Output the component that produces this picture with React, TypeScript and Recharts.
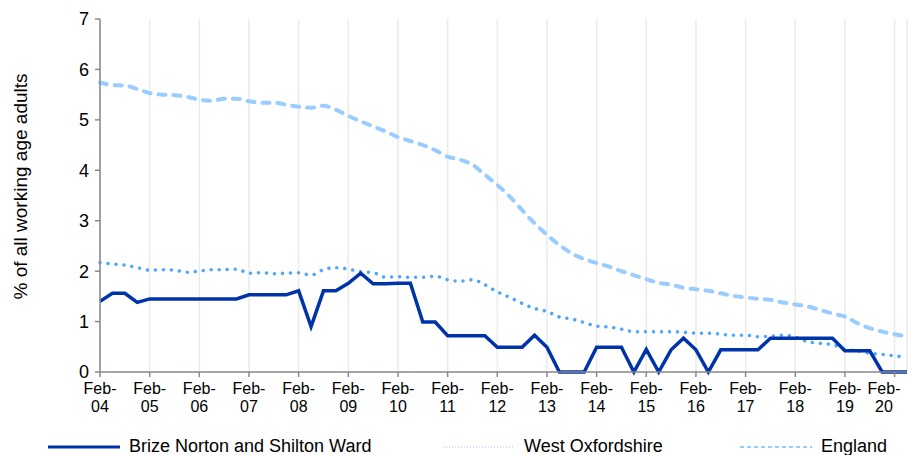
import { LineChart, Line, XAxis, YAxis, CartesianGrid, Legend } from 'recharts'

const years = ['04', '05', '06', '07', '08', '09', '10', '11', '12', '13', '14', '15', '16', '17', '18', '19', '20']
const months = ['Feb', 'May', 'Aug', 'Nov']
const quarters = years.flatMap((y) => months.map((m) => `${m}-${y}`)).slice(0, 66)

const brizeNorton = [
  1.40, 1.56, 1.56, 1.38, 1.45, 1.45, 1.45, 1.45, 1.45, 1.45,
  1.45, 1.45, 1.53, 1.53, 1.53, 1.53, 1.61, 0.90, 1.61, 1.61,
  1.76, 1.96, 1.75, 1.75, 1.76, 1.76, 0.99, 0.99, 0.72, 0.72,
  0.72, 0.72, 0.49, 0.49, 0.49, 0.73, 0.49, 0, 0, 0,
  0.49, 0.49, 0.49, 0, 0.45, 0, 0.44, 0.67, 0.44, 0,
  0.44, 0.44, 0.44, 0.44, 0.67, 0.67, 0.67, 0.67, 0.67, 0.67,
  0.42, 0.42, 0.42, 0, 0, 0,
]

const westOxfordshire = [
  2.17, 2.14, 2.12, 2.07, 2.02, 2.03, 2.02, 1.98, 2.00, 2.03,
  2.03, 2.04, 1.96, 1.97, 1.95, 1.96, 1.97, 1.92, 2.03, 2.07,
  2.04, 1.99, 1.97, 1.88, 1.89, 1.88, 1.88, 1.90, 1.83, 1.80,
  1.83, 1.73, 1.59, 1.48, 1.36, 1.26, 1.20, 1.09, 1.05, 0.98,
  0.91, 0.89, 0.85, 0.80, 0.80, 0.80, 0.80, 0.79, 0.77, 0.77,
  0.75, 0.73, 0.73, 0.70, 0.71, 0.73, 0.69, 0.60, 0.57, 0.54,
  0.45, 0.42, 0.37, 0.35, 0.32, 0.30,
]

const england = [
  5.74, 5.69, 5.68, 5.61, 5.53, 5.50, 5.49, 5.46, 5.40, 5.38,
  5.42, 5.42, 5.37, 5.34, 5.34, 5.30, 5.26, 5.24, 5.28, 5.20,
  5.08, 4.97, 4.87, 4.77, 4.66, 4.58, 4.50, 4.40, 4.27, 4.21,
  4.11, 3.91, 3.71, 3.48, 3.21, 2.95, 2.72, 2.52, 2.35, 2.24,
  2.16, 2.09, 2.00, 1.92, 1.84, 1.77, 1.73, 1.67, 1.64, 1.61,
  1.56, 1.51, 1.48, 1.45, 1.43, 1.38, 1.34, 1.30, 1.23, 1.16,
  1.10, 0.97, 0.87, 0.80, 0.75, 0.70,
]

const yTicks = [0, 1, 2, 3, 4, 5, 6, 7]

const data = quarters.map((q, i) => ({
  q,
  brize: brizeNorton[i],
  west: westOxfordshire[i],
  england: england[i],
}))

const FONT = '"Liberation Sans", Arial, sans-serif'

const XTick = (props: any) => {
  const { x, y, payload } = props
  const [m, yr] = String(payload.value).split('-')
  const cx = Math.min(x, 884)
  return (
    <text x={cx} y={y} textAnchor="middle" fontSize={16} fill="#000" fontFamily={FONT}>
      <tspan x={cx} dy={15}>{m}-</tspan>
      <tspan x={cx} dy={18}>{yr}</tspan>
    </text>
  )
}

const YTitle = (props: any) => {
  const vb = props.viewBox
  const cy = vb.y + vb.height / 2 - 9
  return (
    <text
      x={27}
      y={cy}
      transform={`rotate(-90, 27, ${cy})`}
      textAnchor="middle"
      fontSize={19}
      fill="#000"
      fontFamily={FONT}
    >
      % of all working age adults
    </text>
  )
}

const legendItems = [
  { label: 'Brize Norton and Shilton Ward', left: 48, stroke: '#0033AA', dash: undefined, width: 3 },
  { label: 'West Oxfordshire', left: 443, stroke: '#cfe4fb', dash: '1 2', width: 2 },
  { label: 'England', left: 740, stroke: '#99CCFF', dash: '4 3', width: 2 },
]

const LegendBox = () => (
  <div style={{ position: 'relative', width: 911, height: 33, fontFamily: FONT }}>
    {legendItems.map((it) => (
      <div key={it.label} style={{ position: 'absolute', left: it.left, top: 14, display: 'flex', alignItems: 'center', whiteSpace: 'nowrap' }}>
        <svg width={72} height={8}>
          <line x1={0} y1={4} x2={72} y2={4} stroke={it.stroke} strokeWidth={it.width} strokeDasharray={it.dash} />
        </svg>
        <span style={{ marginLeft: 9, fontSize: 18, color: '#000' }}>{it.label}</span>
      </div>
    ))}
  </div>
)

export default function App() {
  return (
    <div style={{ position: 'absolute', left: 0, top: 0, background: '#fff', fontFamily: FONT }}>
      <LineChart width={911} height={455} data={data} margin={{ top: 19, right: 4, left: 0, bottom: 0 }}>
        <CartesianGrid vertical horizontal={false} stroke="#ebebeb" strokeWidth={1.5} />
        <XAxis
          dataKey="q"
          interval={3}
          height={50}
          tick={<XTick />}
          tickSize={5}
          stroke="#898989"
          strokeWidth={1.5}
          padding={{ left: 0, right: 0 }}
        />
        <YAxis
          domain={[0, 7]}
          ticks={yTicks}
          width={100}
          tickSize={5}
          tickMargin={6}
          stroke="#898989"
          strokeWidth={1.5}
          tick={{ fontSize: 18, fill: '#000', fontFamily: FONT }}
          label={<YTitle />}
        />
        <Legend verticalAlign="bottom" height={33} content={<LegendBox />} wrapperStyle={{ left: 0, width: 911 }} />
        <Line
          type="monotone"
          dataKey="england"
          stroke="#99CCFF"
          strokeWidth={4}
          strokeDasharray="7 8"
          strokeLinecap="round"
          dot={false}
          activeDot={false}
          isAnimationActive={false}
        />
        <Line
          type="monotone"
          dataKey="west"
          stroke="#4DA6FF"
          strokeWidth={3.5}
          strokeDasharray="0.01 8"
          strokeLinecap="round"
          dot={false}
          activeDot={false}
          isAnimationActive={false}
        />
        <Line
          type="linear"
          dataKey="brize"
          stroke="#0033AA"
          strokeWidth={3.5}
          dot={false}
          activeDot={false}
          isAnimationActive={false}
        />
      </LineChart>
    </div>
  )
}
